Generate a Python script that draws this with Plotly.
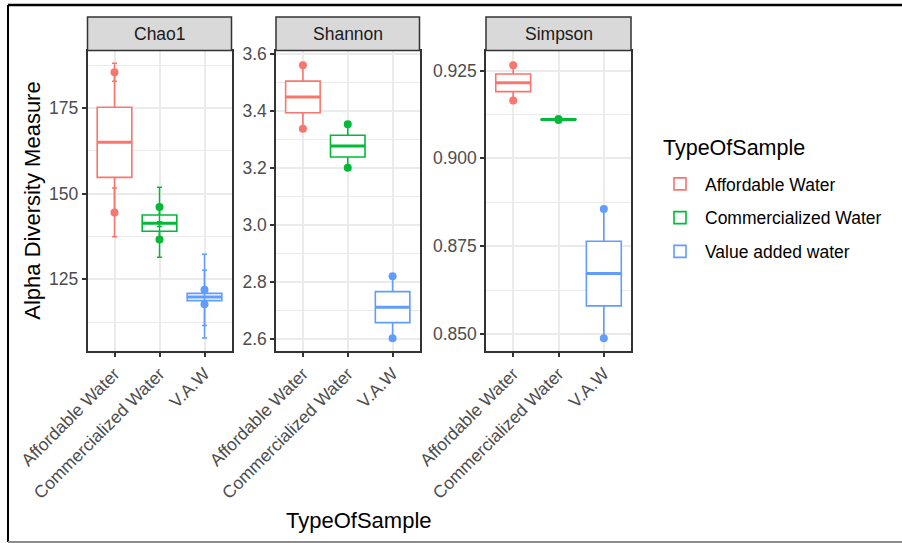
import numpy as np
import plotly.graph_objects as go

# ---- data -------------------------------------------------------------
groups = ["Affordable Water", "Commercialized Water", "Value added water"]
tick_labels = ["Affordable Water", "Commercialized Water", "V.A.W"]
colors = ["#F8766D", "#00BA38", "#619CFF"]

sample_type = ["Affordable Water", "Affordable Water",
               "Commercialized Water", "Commercialized Water",
               "Value added water", "Value added water"]

chao1_values = [185.4, 144.5, 146.1, 136.6, 121.9, 117.7]
chao1_se = [2.6, 7.1, 5.7, 5.2, 10.4, 9.9]
shannon_values = [3.559, 3.337, 3.352, 3.200, 2.821, 2.604]
simpson_values = [0.9265, 0.9165, 0.9112, 0.9109, 0.8856, 0.8488]

measures = ["Chao1", "Shannon", "Simpson"]

# ---- page geometry (pixels) -------------------------------------------
W, H = 902, 543
panels_x = [(87.5, 231.5), (276, 419.5), (486, 631)]
strip_top, plot_top, plot_bottom = 17, 50.5, 351

def xp(px):
    return px / W

def yp(py):
    return 1 - py / H

FONT = "Liberation Sans, Arial, sans-serif"
TICK_SIZE = 17.5
TITLE_SIZE = 22
BOX_W = 0.77

fig = go.Figure()

panel_data = [
    (chao1_values, chao1_se, [104.04, 191.75], 25, 12.5, "d"),
    (shannon_values, None, [2.559, 3.6105], 0.2, 0.1, ".1f"),
    (simpson_values, None, [0.84515, 0.9307], 0.025, 0.0125, ".3f"),
]

types = np.array(sample_type)

for p, (vals, se, yr, dt, mdt, fmt) in enumerate(panel_data):
    vals = np.array(vals)
    xa = "x" if p == 0 else f"x{p + 1}"
    ya = "y" if p == 0 else f"y{p + 1}"
    for g, (grp, col) in enumerate(zip(groups, colors)):
        v = vals[types == grp]
        pos = g + 1
        q1, med, q3 = np.percentile(v, [25, 50, 75])
        iqr = q3 - q1
        lo = v[v >= q1 - 1.5 * iqr].min()
        hi = v[v <= q3 + 1.5 * iqr].max()
        fig.add_trace(go.Box(
            x=[pos], q1=[q1], median=[med], q3=[q3],
            lowerfence=[lo], upperfence=[hi],
            width=BOX_W, whiskerwidth=0,
            line=dict(color=col, width=1.6), fillcolor="white",
            name=grp, legendgroup=grp, showlegend=(p == 0),
            boxpoints=False, hoverinfo="skip",
            xaxis=xa, yaxis=ya,
        ))
        # heavier median bar, as in ggplot
        fig.add_trace(go.Scatter(
            x=[pos - BOX_W / 2, pos + BOX_W / 2], y=[med, med],
            mode="lines", line=dict(color=col, width=3),
            showlegend=False, hoverinfo="skip", xaxis=xa, yaxis=ya,
        ))
        err = None
        if se is not None:
            e = np.array(se)[types == grp]
            err = dict(type="data", array=e, visible=True,
                       color=col, thickness=1.5, width=2.5)
        fig.add_trace(go.Scatter(
            x=[pos] * len(v), y=v, mode="markers",
            marker=dict(color=col, size=8),
            error_y=err, showlegend=False, hoverinfo="skip",
            xaxis=xa, yaxis=ya,
        ))

    x0, x1 = panels_x[p]
    axis_common = dict(
        ticks="outside", ticklen=4, tickwidth=1.5, tickcolor="#333333",
        tickfont=dict(family=FONT, size=TICK_SIZE, color="#4D4D4D"),
        showline=True, mirror=True, linecolor="#333333", linewidth=1.5,
        gridcolor="#EBEBEB", gridwidth=1.5, zeroline=False,
    )
    fig.update_layout(**{
        ("xaxis" if p == 0 else f"xaxis{p + 1}"): dict(
            domain=[xp(x0), xp(x1)], anchor=ya,
            range=[0.4, 3.6], tickvals=[1, 2, 3], ticktext=tick_labels,
            tickangle=-45, showgrid=True, automargin=False, **axis_common,
        ),
        ("yaxis" if p == 0 else f"yaxis{p + 1}"): dict(
            domain=[yp(plot_bottom), yp(plot_top)], anchor=xa,
            range=yr, tick0=0, dtick=dt, tickformat=fmt,
            minor=dict(dtick=mdt, tick0=0, showgrid=True,
                       gridcolor="#EBEBEB", gridwidth=0.8),
            showgrid=True, automargin=False, **axis_common,
        ),
    })
    # facet strip
    fig.add_shape(type="rect", xref="paper", yref="paper",
                  x0=xp(x0), x1=xp(x1), y0=yp(plot_top), y1=yp(strip_top),
                  fillcolor="#D9D9D9", line=dict(color="#333333", width=1.5))
    fig.add_annotation(text=measures[p], xref="paper", yref="paper",
                       x=xp((x0 + x1) / 2), y=yp((strip_top + plot_top) / 2),
                       showarrow=False, xanchor="center", yanchor="middle",
                       font=dict(family=FONT, size=TICK_SIZE, color="#1A1A1A"))

# axis titles
fig.add_annotation(text="Alpha Diversity Measure", xref="paper", yref="paper",
                   x=xp(33), y=yp((plot_top + plot_bottom) / 2), textangle=-90,
                   showarrow=False, xanchor="center", yanchor="middle",
                   font=dict(family=FONT, size=TITLE_SIZE, color="black"))
fig.add_annotation(text="TypeOfSample", xref="paper", yref="paper",
                   x=xp((panels_x[0][0] + panels_x[2][1]) / 2), y=yp(520),
                   showarrow=False, xanchor="center", yanchor="middle",
                   font=dict(family=FONT, size=TITLE_SIZE, color="black"))

# legend heading
fig.add_annotation(text="TypeOfSample", xref="paper", yref="paper",
                   x=xp(661), y=yp(148), showarrow=False,
                   xanchor="left", yanchor="middle",
                   font=dict(family=FONT, size=21.5, color="black"))

# outer frame
fig.add_shape(type="line", xref="paper", yref="paper",
              x0=xp(8), x1=xp(8), y0=yp(542), y1=yp(5),
              line=dict(color="black", width=2))
fig.add_shape(type="line", xref="paper", yref="paper",
              x0=xp(8), x1=1.01, y0=yp(5), y1=yp(5),
              line=dict(color="black", width=2.5))
fig.add_shape(type="line", xref="paper", yref="paper",
              x0=xp(8), x1=1.01, y0=yp(542), y1=yp(542),
              line=dict(color="#8C8C8C", width=2))

fig.update_layout(
    width=W, height=H,
    margin=dict(l=0, r=0, t=0, b=0),
    paper_bgcolor="white", plot_bgcolor="white",
    font=dict(family=FONT, color="black"),
    legend=dict(
        x=xp(655), y=yp(166), xanchor="left", yanchor="top",
        font=dict(family=FONT, size=TICK_SIZE, color="black"),
        tracegroupgap=8, itemwidth=40, bgcolor="rgba(255,255,255,0)",
    ),
)

fig.write_html("out.html")
